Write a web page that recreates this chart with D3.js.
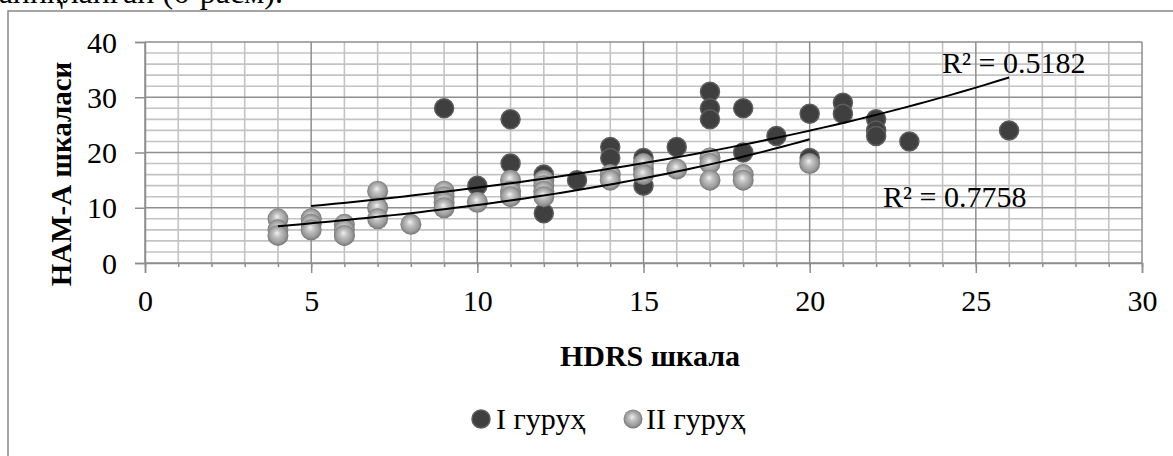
<!DOCTYPE html>
<html>
<head>
<meta charset="utf-8">
<script src="https://cdn.jsdelivr.net/npm/d3@7"></script>
<style>
  html, body { margin: 0; padding: 0; background: #fff; }
  svg { display: block; }
  svg text { font-family: "Liberation Serif", "Times New Roman", "DejaVu Serif", serif; fill: #000; }
</style>
</head>
<body>
<svg id="chart" width="1173" height="456"></svg>
<script>
// HDRS vs HAM-A scores, two patient groups
const group1X = [5, 6, 9, 10, 11, 11, 12, 12, 13, 14, 14, 15, 15, 15, 16, 17, 17, 17, 17, 18, 18, 19, 20, 20, 21, 21, 22, 22, 22, 23, 26];
const group1Y = [8, 5, 28, 14, 26, 18, 16, 9, 15, 21, 19, 19, 17, 14, 21, 31, 28, 26, 19, 28, 20, 23, 27, 19, 29, 27, 26, 24, 23, 22, 24];

const group2X = [4, 4, 4, 5, 5, 5, 6, 6, 6, 7, 7, 7, 8, 9, 9, 9, 9, 10, 11, 11, 11, 12, 12, 12, 12, 14, 14, 15, 15, 16, 17, 17, 17, 18, 18, 20];
const group2Y = [8, 6, 5, 8, 7, 6, 7, 6, 5, 13, 10, 8, 7, 13, 12, 11, 10, 11, 15, 13, 12, 15, 14, 13, 12, 16, 15, 18, 16, 17, 19, 18, 15, 16, 15, 18];

// exponential trend lines y = a * exp(b * x)
const trend1 = { a: 7.77, b: 0.0563, r2: "R² = 0.5182" };
const trend2 = { a: 4.92, b: 0.0758, r2: "R² = 0.7758" };

const xTicks = [0, 5, 10, 15, 20, 25, 30];
const yTicks = [0, 10, 20, 30, 40];
const seriesNames = ["I гуруҳ", "II гуруҳ"];

const FONT = '"Liberation Serif", "Times New Roman", "DejaVu Serif", serif';
const svg = d3.select("#chart");
const W = 1173, H = 456;
const plot = { left: 145, right: 1142, top: 42, bottom: 263 };

const x = d3.scaleLinear().domain([0, 30]).range([plot.left, plot.right]);
const y = d3.scaleLinear().domain([0, 40]).range([plot.bottom, plot.top]);

// sphere fill for group II
const defs = svg.append("defs");
const grad = defs.append("radialGradient").attr("id", "sphere")
  .attr("cx", "50%").attr("cy", "50%").attr("r", "55%")
  .attr("fx", "45%").attr("fy", "38%");
grad.append("stop").attr("offset", "0%").attr("stop-color", "#f2f2f2");
grad.append("stop").attr("offset", "30%").attr("stop-color", "#c4c4c4");
grad.append("stop").attr("offset", "70%").attr("stop-color", "#9c9c9c");
grad.append("stop").attr("offset", "100%").attr("stop-color", "#6a6a6a");

// text line of the page above the chart
svg.append("text").attr("x", 283).attr("y", 3)
  .attr("text-anchor", "end").attr("font-family", FONT).style("font-size", "32px")
  .text("аниқланган (6-расм).");

// chart frame
svg.append("rect").attr("x", 8).attr("y", 11)
  .attr("width", W + 20).attr("height", H + 20)
  .attr("fill", "#fff").attr("stroke", "#888").attr("stroke-width", 1.5);

// minor gridlines
const grid = svg.append("g");
grid.selectAll("line.vmin").data(d3.range(0, 31, 1).filter(v => v % 5 !== 0)).join("line")
  .attr("x1", d => x(d)).attr("x2", d => x(d))
  .attr("y1", plot.top).attr("y2", plot.bottom)
  .attr("stroke", "#c3c3c3").attr("stroke-width", 1.6);
grid.selectAll("line.hmin").data(d3.range(0, 41, 2).filter(v => v % 10 !== 0)).join("line")
  .attr("y1", d => y(d)).attr("y2", d => y(d))
  .attr("x1", plot.left).attr("x2", plot.right)
  .attr("stroke", "#c3c3c3").attr("stroke-width", 1.6);
// major gridlines
grid.selectAll("line.vmaj").data(xTicks).join("line")
  .attr("x1", d => x(d)).attr("x2", d => x(d))
  .attr("y1", plot.top).attr("y2", plot.bottom)
  .attr("stroke", "#8e8e8e").attr("stroke-width", 1.5);
grid.selectAll("line.hmaj").data(yTicks).join("line")
  .attr("y1", d => y(d)).attr("y2", d => y(d))
  .attr("x1", plot.left).attr("x2", plot.right)
  .attr("stroke", "#8e8e8e").attr("stroke-width", 1.5);

// axes
const xAxis = d3.axisBottom(x).tickValues(xTicks).tickSize(10).tickFormat(d3.format("d"));
const gx = svg.append("g").attr("transform", `translate(0,${plot.bottom})`).call(xAxis)
  .attr("font-family", FONT);
gx.select(".domain").attr("stroke", "#8e8e8e").attr("stroke-width", 1.5);
gx.selectAll(".tick line").attr("stroke", "#8e8e8e").attr("stroke-width", 1.5);
gx.selectAll(".tick text").attr("y", 48).attr("dy", 0)
  .attr("font-family", FONT).style("font-size", "30px").attr("fill", "#000");
const xMinor = d3.axisBottom(x).tickValues(d3.range(0, 31, 1)).tickSize(4).tickFormat("");
const gxm = svg.append("g").attr("transform", `translate(0,${plot.bottom})`).call(xMinor);
gxm.select(".domain").remove();
gxm.selectAll(".tick line").attr("stroke", "#8e8e8e").attr("stroke-width", 1.5);

const yAxis = d3.axisLeft(y).tickValues(yTicks).tickSize(10).tickFormat(d3.format("d"));
const gy = svg.append("g").attr("transform", `translate(${plot.left},0)`).call(yAxis)
  .attr("font-family", FONT);
gy.select(".domain").attr("stroke", "#8e8e8e").attr("stroke-width", 1.5);
gy.selectAll(".tick line").attr("stroke", "#8e8e8e").attr("stroke-width", 1.5);
gy.selectAll(".tick text").attr("x", -28).attr("dy", "0.34em")
  .attr("font-family", FONT).style("font-size", "30px").attr("fill", "#000");

// axis titles
svg.append("text").attr("x", 650).attr("y", 366).attr("text-anchor", "middle")
  .attr("font-family", FONT).style("font-size", "30px").style("font-weight", "bold").text("HDRS шкала");
svg.append("text").attr("transform", "translate(71,174) rotate(-90)").attr("text-anchor", "middle")
  .attr("font-family", FONT).style("font-size", "29px").style("font-weight", "bold").text("НАМ-А шкаласи");

// group I markers
const pts1 = group1X.map((v, i) => ({ x: v, y: group1Y[i] }));
const pts2 = group2X.map((v, i) => ({ x: v, y: group2Y[i] }));
svg.append("g").selectAll("circle").data(pts1).join("circle")
  .attr("cx", d => x(d.x)).attr("cy", d => y(d.y)).attr("r", 9.5)
  .attr("fill", "#3f3f3f").attr("stroke", "#5c5c5c").attr("stroke-width", 1.5);
// group II markers
svg.append("g").selectAll("circle").data(pts2).join("circle")
  .attr("cx", d => x(d.x)).attr("cy", d => y(d.y)).attr("r", 10.5)
  .attr("fill", "url(#sphere)");

// trend lines over each group's HDRS range
function trendPath(t, xs) {
  const lo = d3.min(xs), hi = d3.max(xs);
  const samples = d3.range(0, 61).map(i => lo + (hi - lo) * i / 60);
  return d3.line().x(v => x(v)).y(v => y(t.a * Math.exp(t.b * v)))(samples);
}
svg.append("path").attr("d", trendPath(trend1, group1X))
  .attr("fill", "none").attr("stroke", "#000").attr("stroke-width", 2);
svg.append("path").attr("d", trendPath(trend2, group2X))
  .attr("fill", "none").attr("stroke", "#000").attr("stroke-width", 2);

svg.append("text").attr("x", 942).attr("y", 73).attr("font-family", FONT)
  .style("font-size", "30px").text(trend1.r2);
svg.append("text").attr("x", 883).attr("y", 207).attr("font-family", FONT)
  .style("font-size", "30px").text(trend2.r2);

// legend
const legend = svg.append("g").attr("font-family", FONT);
legend.append("circle").attr("cx", 481).attr("cy", 419).attr("r", 9)
  .attr("fill", "#3f3f3f").attr("stroke", "#5c5c5c").attr("stroke-width", 1.5);
legend.append("text").attr("x", 496).attr("y", 429).style("font-size", "30px").text(seriesNames[0]);
legend.append("circle").attr("cx", 633).attr("cy", 419).attr("r", 9.5).attr("fill", "url(#sphere)");
legend.append("text").attr("x", 646).attr("y", 429).style("font-size", "30px").text(seriesNames[1]);
</script>
</body>
</html>
